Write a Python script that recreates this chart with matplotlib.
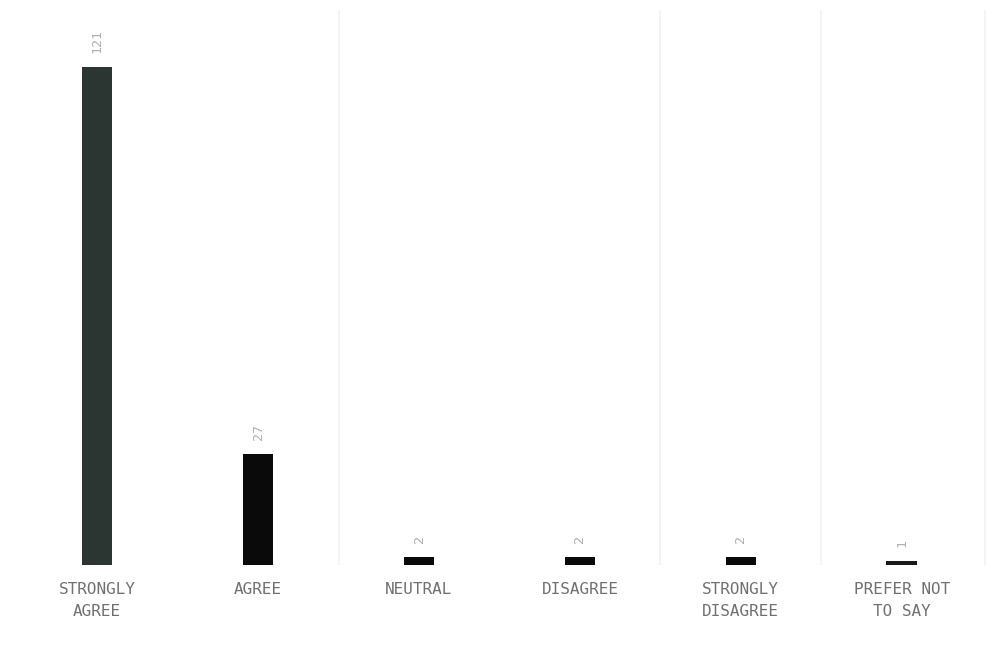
import matplotlib.pyplot as plt
import numpy as np

categories = ["STRONGLY\nAGREE", "AGREE", "NEUTRAL", "DISAGREE",
              "STRONGLY\nDISAGREE", "PREFER NOT\nTO SAY"]
counts = [121, 27, 2, 2, 2, 1]
bar_colors = ['#2b3531', '#0a0a0a', '#0a0a0a', '#0a0a0a', '#0a0a0a', '#1a1a1a']

fig = plt.figure(figsize=(9.97, 6.55), dpi=100)
ax = fig.add_axes([0.02, 0.137, 0.97, 0.848])

x = np.arange(len(categories))
ax.bar(x, counts, width=0.19, color=bar_colors, zorder=3)

# faint separator lines from the scanned table
for sep in [1.5, 3.5, 4.5, 5.52]:
    ax.axvline(sep, color='#f2f2f2', linewidth=1.2, zorder=1)

for xi, c in zip(x, counts):
    ax.text(xi, c + 3.5, str(c), rotation=90, ha='center', va='bottom',
            fontsize=9.5, color='#b0b0b0', family='DejaVu Sans Mono')

for xi, lab in zip(x, categories):
    ax.text(xi, -4, lab, ha='center', va='top', fontsize=11.5,
            color='#707070', family='DejaVu Sans Mono', linespacing=1.6)

ax.set(xlim=(-0.48, 5.53), ylim=(0, 135))
ax.set_xticks([])
ax.set_yticks([])
for s in ax.spines.values():
    s.set_visible(False)
ax.axhline(0, color='#f2f2f2', linewidth=1, zorder=2)

fig.savefig("out.png", dpi=100)
